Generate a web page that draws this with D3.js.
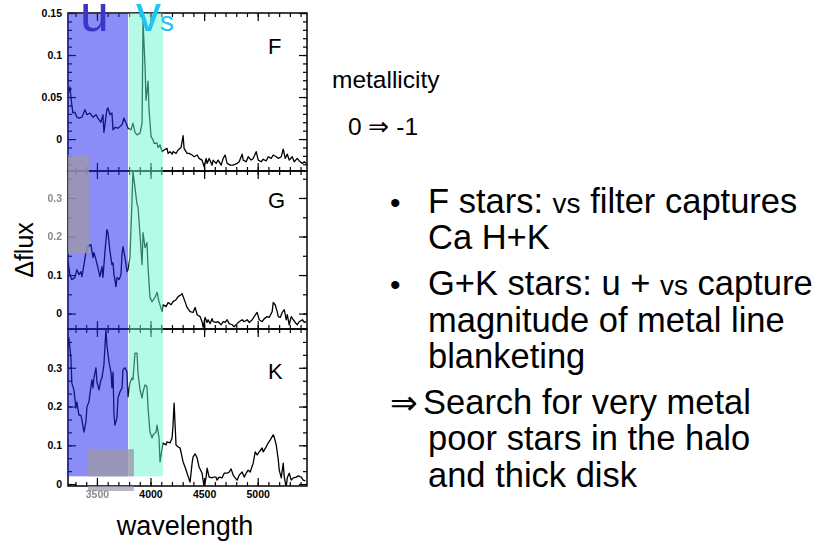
<html>
    <head>
        <title>Metallicity sensitivity of u and vs filters</title>
        <style>
            body { margin: 0; background: #fff; }
            text { font-family: "Liberation Sans", Arial, Helvetica, sans-serif; }
            .axis path.domain { stroke: none; }
            .axis line { stroke: #000; stroke-width: 1.2px; }
            .axis text { font-weight: bold; font-size: 10.5px; fill: #000; }
            .frame { fill: none; stroke: #000; stroke-width: 1.5px; }
            .spectrum { fill: none; stroke: #000; stroke-width: 1.3px; stroke-linejoin: round; }
        </style>
    </head>
    <body>
        <svg></svg>

        <script src="https://d3js.org/d3.v7.min.js"></script>
        <script>
            // difference spectra (metallicity 0 minus -1), [wavelength, delta flux]
            const spectrumF = [[3229,0.052],[3248,0.062],[3266,0.040],[3276,0.031],[3294,0.032],[3313,0.026],[3332,0.025],[3360,0.026],[3388,0.035],[3407,0.029],[3435,0.031],[3463,0.026],[3491,0.029],[3509,0.025],[3537,0.020],[3556,0.029],[3565,0.008],[3593,0.035],[3603,0.037],[3622,0.029],[3640,0.031],[3650,0.011],[3668,0.014],[3696,0.013],[3734,0.017],[3752,0.025],[3771,0.019],[3790,0.013],[3818,0.011],[3836,0.019],[3855,0.008],[3874,0.005],[3902,0.007],[3921,0.019],[3930,0.140],[3949,0.086],[3958,0.046],[3977,0.069],[3986,0.035],[4005,0.003],[4024,-0.001],[4033,-0.005],[4061,-0.005],[4070,-0.010],[4089,-0.007],[4108,-0.015],[4126,-0.013],[4154,-0.011],[4164,-0.017],[4182,-0.015],[4201,-0.018],[4210,-0.015],[4238,-0.017],[4257,-0.013],[4285,-0.010],[4304,0.004],[4313,-0.011],[4341,-0.017],[4360,-0.017],[4388,-0.019],[4407,-0.021],[4435,-0.019],[4453,-0.023],[4481,-0.025],[4500,-0.033],[4519,-0.023],[4528,-0.029],[4547,-0.023],[4575,-0.031],[4584,-0.025],[4612,-0.029],[4631,-0.025],[4659,-0.031],[4678,-0.023],[4696,-0.019],[4715,-0.029],[4743,-0.031],[4771,-0.031],[4808,-0.029],[4827,-0.027],[4855,-0.018],[4865,-0.025],[4893,-0.027],[4911,-0.021],[4939,-0.025],[4958,-0.023],[4986,-0.015],[5005,-0.025],[5033,-0.027],[5051,-0.024],[5079,-0.026],[5098,-0.021],[5126,-0.023],[5145,-0.019],[5173,-0.021],[5192,-0.023],[5220,-0.021],[5238,-0.012],[5257,-0.023],[5276,-0.018],[5294,-0.025],[5322,-0.021],[5341,-0.027],[5369,-0.023],[5388,-0.026],[5416,-0.029],[5435,-0.027],[5453,-0.029]];

            const spectrumG = [[3229,0.136],[3248,0.101],[3266,0.088],[3294,0.094],[3313,0.114],[3332,0.101],[3350,0.109],[3360,0.096],[3379,0.127],[3397,0.158],[3416,0.174],[3444,0.179],[3463,0.145],[3472,0.158],[3491,0.140],[3509,0.119],[3528,0.096],[3547,0.122],[3556,0.094],[3575,0.161],[3593,0.218],[3603,0.210],[3622,0.161],[3640,0.127],[3650,0.132],[3659,0.101],[3678,0.070],[3687,0.094],[3706,0.088],[3724,0.101],[3734,0.153],[3743,0.174],[3762,0.145],[3780,0.109],[3790,0.114],[3808,0.145],[3827,0.291],[3836,0.369],[3855,0.327],[3874,0.283],[3883,0.278],[3902,0.205],[3921,0.127],[3930,0.210],[3949,0.171],[3967,0.184],[3977,0.119],[3995,0.042],[4014,0.031],[4042,0.042],[4061,0.055],[4079,0.031],[4108,0.005],[4117,0.023],[4145,0.018],[4164,0.029],[4192,0.023],[4210,0.031],[4238,0.036],[4257,0.044],[4285,0.049],[4294,0.052],[4322,0.031],[4341,0.016],[4369,0.005],[4397,0.003],[4416,0.016],[4435,-0.003],[4463,-0.008],[4481,-0.021],[4491,-0.036],[4509,-0.010],[4528,-0.023],[4537,-0.016],[4556,-0.026],[4575,-0.013],[4584,-0.021],[4612,-0.023],[4631,-0.021],[4659,-0.029],[4678,-0.021],[4696,-0.023],[4715,-0.016],[4734,-0.026],[4762,-0.029],[4780,-0.034],[4808,-0.026],[4827,-0.021],[4855,-0.016],[4874,-0.021],[4902,-0.016],[4921,-0.023],[4949,-0.016],[4967,-0.008],[4995,0.003],[5014,-0.016],[5042,-0.021],[5061,-0.013],[5089,-0.008],[5107,-0.010],[5135,0.005],[5145,0.029],[5163,0.023],[5182,0.005],[5192,-0.008],[5210,-0.010],[5229,0.003],[5248,0.010],[5266,-0.016],[5276,-0.003],[5294,-0.029],[5313,-0.008],[5332,-0.016],[5350,-0.023],[5369,-0.029],[5388,-0.021],[5416,-0.016],[5435,-0.023],[5453,-0.021]];

            const spectrumK = [[3229,0.354],[3238,0.377],[3257,0.326],[3266,0.261],[3285,0.243],[3304,0.196],[3313,0.212],[3332,0.178],[3350,0.178],[3360,0.165],[3379,0.134],[3397,0.160],[3407,0.199],[3425,0.212],[3444,0.251],[3453,0.269],[3463,0.248],[3472,0.274],[3491,0.300],[3500,0.264],[3519,0.243],[3537,0.269],[3547,0.274],[3565,0.307],[3584,0.398],[3593,0.359],[3612,0.315],[3631,0.289],[3640,0.248],[3650,0.289],[3659,0.178],[3668,0.152],[3687,0.171],[3696,0.222],[3715,0.238],[3734,0.248],[3743,0.295],[3762,0.300],[3780,0.289],[3790,0.225],[3808,0.261],[3827,0.274],[3836,0.269],[3855,0.338],[3874,0.338],[3883,0.287],[3902,0.243],[3921,0.222],[3930,0.238],[3949,0.256],[3967,0.251],[3977,0.196],[3995,0.134],[4014,0.119],[4024,0.127],[4051,0.134],[4061,0.152],[4079,0.119],[4089,0.057],[4108,0.093],[4117,0.106],[4145,0.101],[4154,0.109],[4182,0.106],[4201,0.119],[4210,0.152],[4220,0.209],[4238,0.101],[4257,0.096],[4276,0.093],[4304,0.057],[4322,0.044],[4341,0.028],[4369,0.005],[4388,0.054],[4397,0.070],[4416,0.078],[4435,0.067],[4453,0.044],[4481,0.028],[4500,-0.008],[4519,0.018],[4528,0.041],[4547,0.018],[4575,0.016],[4584,0.018],[4612,0.018],[4621,0.010],[4640,0.018],[4668,0.016],[4687,0.028],[4715,0.028],[4734,0.031],[4752,0.039],[4771,0.023],[4790,0.016],[4808,0.010],[4827,0.023],[4855,0.031],[4874,0.018],[4893,0.028],[4911,0.036],[4930,0.031],[4958,0.054],[4977,0.083],[4995,0.075],[5014,0.083],[5042,0.093],[5051,0.083],[5079,0.096],[5098,0.106],[5117,0.114],[5145,0.127],[5154,0.121],[5173,0.101],[5192,0.062],[5201,0.036],[5220,0.016],[5238,0.054],[5248,0.018],[5266,-0.008],[5276,0.016],[5294,0.028],[5313,0.010],[5332,0.016],[5360,0.018],[5378,0.021],[5406,0.018],[5425,0.010],[5444,0.008]];

            // filter pass bands in Angstrom
            const uBand = [3230, 3790];
            const vsBand = [3797, 4115];

            // tick labels
            const xTickValues = [3500, 4000, 4500, 5000];
            const yTicksF = [0, 0.05, 0.1, 0.15];
            const yTicksG = [0, 0.1, 0.2, 0.3];
            const yTicksK = [0, 0.1, 0.2, 0.3];
            const panelLabels = ["F", "G", "K"];

            // notes on the right
            const noteLines = [
                { mark: "•", parts: ["F stars: ", "vs", " filter captures"] },
                { parts: ["Ca H+K"] },
                { mark: "•", parts: ["G+K stars: u + ", "vs", " capture"] },
                { parts: ["magnitude of metal line"] },
                { parts: ["blanketing"] },
                { mark: "\u21D2", parts: ["Search for very metal"] },
                { parts: ["poor stars in the halo"] },
                { parts: ["and thick disk"] }
            ];

            const width = 815,
            height = 545;

            const svg = d3.select("svg")
                .attr("width", width)
                .attr("height", height);

            // slight blur for the smeared labels
            const blur = svg.append("defs").append("filter").attr("id", "soft");
            blur.append("feGaussianBlur").attr("stdDeviation", 0.5);

            // shared wavelength scale
            const x = d3.scaleLinear().domain([3230, 5460]).range([68, 307]);
            const x0 = x.range()[0], x1 = x.range()[1];

            const panels = [
                { data: spectrumF, domain: [-0.038, 0.15], top: 13, bottom: 171, ticks: yTicksF, minorStep: 0.01, labelDy: 85 },
                { data: spectrumG, domain: [-0.04, 0.37], top: 171, bottom: 329, ticks: yTicksG, minorStep: 0.05, labelDy: 106 },
                { data: spectrumK, domain: [-0.005, 0.40], top: 329, bottom: 486, ticks: yTicksK, minorStep: 0.1 / 3, labelDy: 105 }
            ];

            const xMinor = d3.range(33, 55).map(function(k) { return k * 100; });

            function minorTicks(domain, step) {
                return d3.range(Math.ceil(domain[0] / step - 1e-6), Math.floor(domain[1] / step + 1e-6) + 1)
                    .map(function(k) { return k * step; });
            }

            panels.forEach(function(p, i) {
                const y = d3.scaleLinear().domain(p.domain).range([p.bottom, p.top]);
                p.y = y;
                const g = svg.append("g");

                g.append("clipPath").attr("id", "clip" + i)
                    .append("rect")
                    .attr("x", x0).attr("y", p.top)
                    .attr("width", x1 - x0).attr("height", p.bottom - p.top);

                // the spectrum
                g.append("path")
                    .datum(p.data)
                    .attr("class", "spectrum")
                    .attr("clip-path", "url(#clip" + i + ")")
                    .attr("d", d3.line()
                        .x(function(d) { return x(d[0]); })
                        .y(function(d) { return y(d[1]); }));

                const minors = minorTicks(p.domain, p.minorStep);

                // left axis with labels, ticks pointing inwards
                const left = g.append("g").attr("class", "axis")
                    .attr("transform", "translate(" + x0 + ",0)")
                    .call(d3.axisLeft(y).tickValues(p.ticks).tickSize(-8).tickSizeOuter(0).tickPadding(6)
                        .tickFormat(function(d) { return String(d); }));
                g.append("g").attr("class", "axis")
                    .attr("transform", "translate(" + x0 + ",0)")
                    .call(d3.axisLeft(y).tickValues(minors).tickSize(-4).tickSizeOuter(0).tickFormat(""));

                // in the G panel the upper labels are smeared in the original
                if (i === 1) {
                    left.selectAll(".tick text")
                        .filter(function(d) { return d >= 0.2; })
                        .style("fill", "#8a8a8a")
                        .attr("filter", "url(#soft)");
                }

                // right axis
                g.append("g").attr("class", "axis")
                    .attr("transform", "translate(" + x1 + ",0)")
                    .call(d3.axisRight(y).tickValues(p.ticks).tickSize(-8).tickSizeOuter(0).tickFormat(""));
                g.append("g").attr("class", "axis")
                    .attr("transform", "translate(" + x1 + ",0)")
                    .call(d3.axisRight(y).tickValues(minors).tickSize(-4).tickSizeOuter(0).tickFormat(""));

                // top and bottom axes
                g.append("g").attr("class", "axis")
                    .attr("transform", "translate(0," + p.top + ")")
                    .call(d3.axisTop(x).tickValues(xTickValues).tickSize(-8).tickSizeOuter(0).tickFormat(""));
                g.append("g").attr("class", "axis")
                    .attr("transform", "translate(0," + p.top + ")")
                    .call(d3.axisTop(x).tickValues(xMinor).tickSize(-4).tickSizeOuter(0).tickFormat(""));
                const last = i === panels.length - 1;
                const bottom = g.append("g").attr("class", "axis")
                    .attr("transform", "translate(0," + p.bottom + ")")
                    .call(d3.axisBottom(x).tickValues(xTickValues).tickSize(-8).tickSizeOuter(0).tickPadding(5)
                        .tickFormat(last ? d3.format("d") : ""));
                g.append("g").attr("class", "axis")
                    .attr("transform", "translate(0," + p.bottom + ")")
                    .call(d3.axisBottom(x).tickValues(xMinor).tickSize(-4).tickSizeOuter(0).tickFormat(""));

                if (last) {
                    bottom.selectAll(".tick text")
                        .filter(function(d) { return d === 3500; })
                        .style("fill", "#8a8a8a")
                        .attr("filter", "url(#soft)");
                }

                g.append("rect").attr("class", "frame")
                    .attr("x", x0).attr("y", p.top)
                    .attr("width", x1 - x0).attr("height", p.bottom - p.top);

                // panel letter
                g.append("text")
                    .attr("x", 268)
                    .attr("y", y(0) - p.labelDy)
                    .attr("font-size", 22)
                    .text(panelLabels[i]);
            });

            const yF = panels[0].y, yG = panels[1].y, yK = panels[2].y;

            // translucent filter bands drawn over the spectra
            const bandTop = yF(0.15), bandBottom = yK(0.02);
            svg.append("rect")
                .attr("x", x(uBand[0])).attr("y", bandTop)
                .attr("width", x(uBand[1]) - x(uBand[0])).attr("height", bandBottom - bandTop)
                .attr("fill", "rgb(34,40,238)").attr("fill-opacity", 0.53);
            svg.append("rect")
                .attr("x", x(vsBand[0])).attr("y", bandTop)
                .attr("width", x(vsBand[1]) - x(vsBand[0])).attr("height", bandBottom - bandTop)
                .attr("fill", "rgb(104,248,208)").attr("fill-opacity", 0.5);

            // grey patches
            const patch = "rgb(157,153,171)";
            svg.append("rect")
                .attr("x", x(3230)).attr("y", yF(-0.019))
                .attr("width", x(3425) - x(3230)).attr("height", yG(0.156) - yF(-0.019))
                .attr("fill", patch).attr("fill-opacity", 0.8);
            svg.append("rect")
                .attr("x", x(3416)).attr("y", yK(0.09))
                .attr("width", x(3845) - x(3416)).attr("height", yK(0.02) - yK(0.09))
                .attr("fill", patch).attr("fill-opacity", 0.8);
            svg.append("rect")
                .attr("x", x(3416)).attr("y", yK(-0.005))
                .attr("width", x(3845) - x(3416)).attr("height", 5)
                .attr("fill", patch).attr("fill-opacity", 0.7);

            // filter names
            svg.append("text").attr("x", 80).attr("y", 31)
                .attr("font-size", 52).attr("fill", "#3b36c9").text("u");
            svg.append("text").attr("x", 136).attr("y", 31)
                .attr("font-size", 50).attr("fill", "#1fc3f4").text("v");
            svg.append("text").attr("x", 160).attr("y", 31)
                .attr("font-size", 28).attr("fill", "#1fc3f4").text("s");

            // axis titles
            svg.append("text")
                .attr("transform", "translate(33,250) rotate(-90)")
                .attr("text-anchor", "middle")
                .attr("font-size", 25)
                .text("\u0394flux");
            svg.append("text")
                .attr("x", 185).attr("y", 535)
                .attr("text-anchor", "middle")
                .attr("font-size", 27)
                .text("wavelength");

            // metallicity change
            svg.append("text").attr("x", 332).attr("y", 88).attr("font-size", 24.5).text("metallicity");
            svg.append("text").attr("x", 348).attr("y", 135).attr("font-size", 24.5).text("0 \u21D2 -1");

            // bullet notes
            let baseline = 213;
            noteLines.forEach(function(line, i) {
                if (i > 0) baseline += line.mark ? 46 : 36.3;
                if (line.mark) {
                    svg.append("text").attr("x", 390).attr("y", baseline)
                        .attr("font-size", line.mark === "•" ? 30 : 33).text(line.mark);
                }
                const t = svg.append("text")
                    .attr("x", line.mark === "\u21D2" ? 423 : 428)
                    .attr("y", baseline)
                    .attr("font-size", 34.5);
                line.parts.forEach(function(part) {
                    t.append("tspan")
                        .attr("font-size", part === "vs" ? 28 : 34.5)
                        .text(part);
                });
            });
        </script>
    </body>
</html>
